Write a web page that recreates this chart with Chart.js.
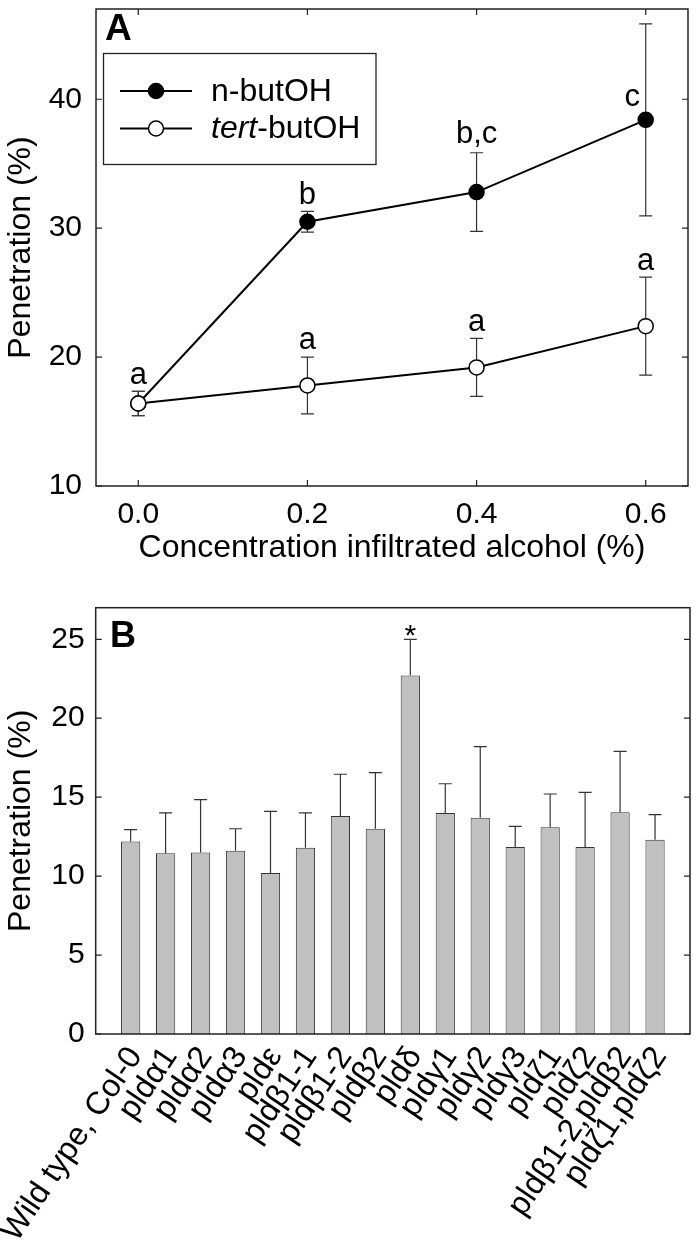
<!DOCTYPE html>
<html>
<head>
<meta charset="utf-8">
<script src="https://cdn.jsdelivr.net/npm/chart.js@4.4.0/dist/chart.umd.min.js"></script>
<style>
  html, body { margin: 0; padding: 0; background: #fff; }
  #wrapA { position: absolute; left: 0; top: 0; width: 697px; height: 600px; }
  #wrapB { position: absolute; left: 0; top: 600px; width: 697px; height: 651px; }
</style>
</head>
<body>
<div id="wrapA"><canvas id="chartA" width="697" height="600"></canvas></div>
<div id="wrapB"><canvas id="chartB" width="697" height="651"></canvas></div>
<script>
// ---- Panel A data ----
const concentrations = [0.0, 0.2, 0.4, 0.6];
const nButanol = [16.4, 30.5, 32.8, 38.4];
const nButanolErr = [0.95, 0.8, 3.05, 7.45];
const tertButanol = [16.4, 17.8, 19.2, 22.4];
const tertButanolErr = [0.95, 2.2, 2.25, 3.8];
const concTicks = [0.0, 0.2, 0.4, 0.6];
const penTicksA = [10, 20, 30, 40];
// significance letters: text, x value, baseline value
const sigText = ['a', 'b', 'b,c', 'c', 'a', 'a', 'a'];
const sigX = [0.0, 0.2, 0.4, 0.584, 0.2, 0.4, 0.6];
const sigY = [17.9, 31.85, 36.6, 39.45, 20.6, 22.0, 26.75];

// ---- Panel B data ----
const genotypes = ['Wild type, Col-0', 'pldα1', 'pldα2', 'pldα3', 'pldε', 'pldβ1-1', 'pldβ1-2', 'pldβ2',
  'pldδ', 'pldγ1', 'pldγ2', 'pldγ3', 'pldζ1', 'pldζ2', 'pldβ1-2,pldβ2', 'pldζ1,pldζ2'];
const penetration = [12.2, 11.45, 11.5, 11.6, 10.2, 11.8, 13.8, 13.0, 22.7, 14.0, 13.7, 11.85, 13.1, 11.85, 14.05, 12.3];
const penetrationErr = [0.75, 2.55, 3.35, 1.4, 3.9, 2.2, 2.65, 3.55, 2.3, 1.85, 4.5, 1.3, 2.1, 3.45, 3.85, 1.6];
const penTicksB = [0, 5, 10, 15, 20, 25];
const starred = [8]; // pldδ

const FONT = "'Liberation Sans', Arial, sans-serif";
Chart.defaults.font.family = FONT;
Chart.defaults.color = '#000';

// frame around plot area + inward tick marks
const framePlugin = {
  id: 'frame',
  afterDraw(chart, args, opts) {
    const { ctx, chartArea: a, scales } = chart;
    ctx.save();
    ctx.strokeStyle = '#222';
    ctx.lineWidth = 1.5;
    ctx.strokeRect(a.left, a.top, a.right - a.left, a.bottom - a.top);
    ctx.lineWidth = 1.2;
    ctx.beginPath();
    scales.y.ticks.forEach(t => {
      const y = scales.y.getPixelForValue(t.value);
      ctx.moveTo(a.left, y); ctx.lineTo(a.left + 6, y);
      ctx.moveTo(a.right, y); ctx.lineTo(a.right - 6, y);
    });
    if (opts.xTicks) {
      scales.x.ticks.forEach(t => {
        const x = scales.x.getPixelForValue(t.value);
        ctx.moveTo(x, a.bottom); ctx.lineTo(x, a.bottom - 6);
        ctx.moveTo(x, a.top); ctx.lineTo(x, a.top + 6);
      });
    }
    ctx.stroke();
    ctx.restore();
  }
};

// vertical error bars, both directions (panel A) or up only (panel B)
const errorBarPlugin = {
  id: 'errorBars',
  beforeDatasetsDraw(chart, args, opts) { if (!opts.upOnly) drawErrors(chart, opts); },
  afterDatasetsDraw(chart, args, opts) { if (opts.upOnly) drawErrors(chart, opts); }
};
function drawErrors(chart, opts) {
  const { ctx, scales } = chart;
  ctx.save();
  ctx.strokeStyle = '#333';
  ctx.lineWidth = 1.2;
  chart.data.datasets.forEach((ds, di) => {
    const meta = chart.getDatasetMeta(di);
    meta.data.forEach((el, i) => {
      const v = ds.data[i].y, e = ds.err[i];
      const top = scales.y.getPixelForValue(v + e);
      const bot = opts.upOnly ? el.y : scales.y.getPixelForValue(v - e);
      ctx.beginPath();
      ctx.moveTo(el.x, top); ctx.lineTo(el.x, bot);
      ctx.moveTo(el.x - 6.5, top); ctx.lineTo(el.x + 6.5, top);
      if (!opts.upOnly) { ctx.moveTo(el.x - 6.5, bot); ctx.lineTo(el.x + 6.5, bot); }
      ctx.stroke();
    });
  });
  ctx.restore();
}

const lettersPlugin = {
  id: 'letters',
  afterDatasetsDraw(chart) {
    const { ctx, scales } = chart;
    ctx.save();
    ctx.font = '31px ' + FONT;
    ctx.fillStyle = '#000';
    ctx.textAlign = 'center';
    ctx.textBaseline = 'alphabetic';
    sigText.forEach((t, i) => {
      ctx.fillText(t, scales.x.getPixelForValue(sigX[i]), scales.y.getPixelForValue(sigY[i]));
    });
    ctx.font = 'bold 37px ' + FONT;
    ctx.textAlign = 'left';
    ctx.fillText('A', 105, 40);
    ctx.restore();
  }
};

const legendPlugin = {
  id: 'boxLegend',
  afterDraw(chart) {
    const { ctx } = chart;
    ctx.save();
    ctx.fillStyle = '#fff';
    ctx.fillRect(103.5, 53.5, 272.5, 111);
    ctx.strokeStyle = '#222';
    ctx.lineWidth = 1.3;
    ctx.strokeRect(103.5, 53.5, 272.5, 111);
    const rows = [{ y: 91, fill: '#000' }, { y: 128.5, fill: '#fff' }];
    rows.forEach(r => {
      ctx.lineWidth = 2;
      ctx.strokeStyle = '#000';
      ctx.beginPath(); ctx.moveTo(120, r.y); ctx.lineTo(192, r.y); ctx.stroke();
      ctx.beginPath(); ctx.arc(156, r.y, 7.5, 0, Math.PI * 2);
      ctx.fillStyle = r.fill; ctx.fill();
      ctx.lineWidth = 1.5; ctx.stroke();
    });
    ctx.fillStyle = '#000';
    ctx.textBaseline = 'middle';
    ctx.font = '32px ' + FONT;
    ctx.fillText('n-butOH', 211, 92);
    ctx.font = 'italic 32px ' + FONT;
    ctx.fillText('tert', 211, 129.5);
    const w = ctx.measureText('tert').width;
    ctx.font = '32px ' + FONT;
    ctx.fillText('-butOH', 211 + w, 129.5);
    ctx.restore();
  }
};

const starPlugin = {
  id: 'stars',
  afterDatasetsDraw(chart) {
    const { ctx, scales } = chart;
    const meta = chart.getDatasetMeta(0);
    ctx.save();
    ctx.font = '30px ' + FONT;
    ctx.fillStyle = '#000';
    ctx.textAlign = 'center';
    ctx.textBaseline = 'alphabetic';
    starred.forEach(i => {
      const top = scales.y.getPixelForValue(penetration[i] + penetrationErr[i]);
      ctx.fillText('*', meta.data[i].x, top + 6);
    });
    ctx.font = 'bold 36px ' + FONT;
    ctx.textAlign = 'left';
    ctx.fillText('B', 110, 47);
    ctx.restore();
  }
};

// ---- Panel A ----
new Chart(document.getElementById('chartA'), {
  type: 'line',
  data: {
    datasets: [
      {
        label: 'tert-butOH',
        data: concentrations.map((x, i) => ({ x, y: tertButanol[i] })),
        err: tertButanolErr,
        borderColor: '#000', borderWidth: 2,
        pointRadius: 7.5, pointBackgroundColor: '#fff', pointBorderColor: '#000', pointBorderWidth: 1.5,
        order: 0
      },
      {
        label: 'n-butOH',
        data: concentrations.map((x, i) => ({ x, y: nButanol[i] })),
        err: nButanolErr,
        borderColor: '#000', borderWidth: 2,
        pointRadius: 7.5, pointBackgroundColor: '#000', pointBorderColor: '#000', pointBorderWidth: 1.5,
        order: 1
      }
    ]
  },
  options: {
    responsive: false,
    animation: false,
    layout: { padding: { top: 5, right: 7, left: 0, bottom: 0 } },
    plugins: {
      legend: { display: false },
      tooltip: { enabled: false },
      frame: { xTicks: true },
      errorBars: { upOnly: false }
    },
    scales: {
      x: {
        type: 'linear', min: -0.05, max: 0.65,
        grid: { display: false, drawTicks: false }, border: { display: false },
        afterBuildTicks: s => { s.ticks = concTicks.map(v => ({ value: v })); },
        afterFit: s => { s.height = 114; s.paddingLeft = 0; s.paddingRight = 0; },
        ticks: { callback: v => v.toFixed(1), font: { size: 30 }, padding: 11, maxRotation: 0 },
        title: { display: true, text: 'Concentration infiltrated alcohol (%)', font: { size: 32 }, padding: { top: 0, bottom: 33 } }
      },
      y: {
        min: 10, max: 47,
        grid: { display: false, drawTicks: false }, border: { display: false },
        afterBuildTicks: s => { s.ticks = penTicksA.map(v => ({ value: v })); },
        afterFit: s => { s.width = 96; s.paddingTop = 0; s.paddingBottom = 0; },
        ticks: { font: { size: 30 }, padding: 14 },
        title: { display: true, text: 'Penetration (%)', font: { size: 32 }, padding: { top: 2, bottom: 0 } }
      }
    }
  },
  plugins: [errorBarPlugin, lettersPlugin, framePlugin, legendPlugin]
});

// ---- Panel B ----
new Chart(document.getElementById('chartB'), {
  type: 'bar',
  data: {
    datasets: [{
      data: penetration.map((y, i) => ({ x: i + 1, y })),
      err: penetrationErr,
      backgroundColor: '#c0c0c0', borderColor: '#333', borderWidth: 1,
      barPercentage: 0.55, categoryPercentage: 1
    }]
  },
  options: {
    responsive: false,
    animation: false,
    layout: { padding: { top: 7.7, right: 7, left: 0, bottom: 0 } },
    plugins: {
      legend: { display: false },
      tooltip: { enabled: false },
      frame: { xTicks: false },
      errorBars: { upOnly: true }
    },
    scales: {
      x: {
        type: 'linear', min: 0, max: 17, offset: false,
        grid: { display: false, drawTicks: false }, border: { display: false },
        afterBuildTicks: s => { s.ticks = genotypes.map((g, i) => ({ value: i + 1 })); },
        afterFit: s => { s.height = 217; s.paddingLeft = 0; s.paddingRight = 0; },
        ticks: { callback: v => genotypes[v - 1] || '', minRotation: 56, maxRotation: 56, autoSkip: false,
                 font: { size: 32 }, padding: 6, labelOffset: 5 }
      },
      y: {
        min: 0, max: 27,
        grid: { display: false, drawTicks: false }, border: { display: false },
        afterBuildTicks: s => { s.ticks = penTicksB.map(v => ({ value: v })); },
        afterFit: s => { s.width = 95.7; s.paddingTop = 0; s.paddingBottom = 0; },
        ticks: { font: { size: 30 }, padding: 11 },
        title: { display: true, text: 'Penetration (%)', font: { size: 32 }, padding: { top: 2, bottom: 0 } }
      }
    }
  },
  plugins: [errorBarPlugin, starPlugin, framePlugin]
});
</script>
</body>
</html>
